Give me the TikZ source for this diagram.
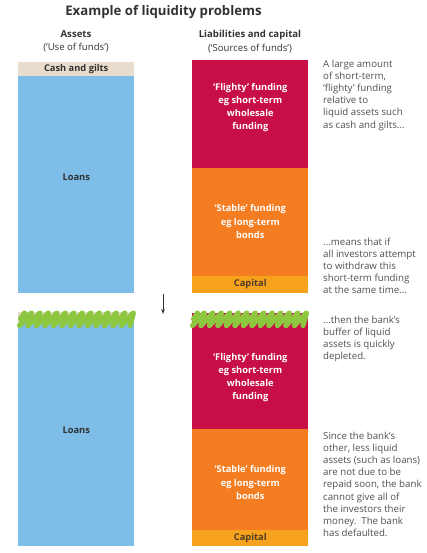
\documentclass[tikz,border=0pt]{standalone}
\usepackage{fontspec}
\setmainfont{Open Sans}
\usetikzlibrary{arrows.meta}
\definecolor{cblue}{RGB}{125,189,232}
\definecolor{cbeige}{RGB}{232,220,204}
\definecolor{ccrimson}{RGB}{200,14,70}
\definecolor{corange}{RGB}{244,125,34}
\definecolor{ccapital}{RGB}{246,162,28}
\definecolor{cgreen}{RGB}{141,198,63}
\definecolor{greytext}{RGB}{80,80,80}
\definecolor{darktext}{RGB}{50,50,50}
\definecolor{captext}{RGB}{80,60,40}
\begin{document}
\begin{tikzpicture}[x=1pt,y=-1pt,
  bar/.style={rectangle, draw=none, inner sep=0pt, outer sep=0pt, minimum width=116pt, anchor=north west},
  lbl/.style={font=\bfseries\fontsize{9.3}{13.2}\selectfont, align=center, inner sep=0pt},
  wlbl/.style={lbl, text=white},
  dlbl/.style={lbl, text=darktext},
  para/.style={font=\fontsize{9.7}{12.2}\selectfont, text=greytext, align=left, anchor=north west, inner sep=0pt},
  head/.style={font=\fontsize{9.6}{13.5}\selectfont, align=center, text=darktext, inner sep=0pt},
  arr/.style={-{Stealth[length=5pt,width=3.6pt]}, line width=0.8pt, draw=darktext},
  scrib/.style={draw=cgreen, line width=5.2pt, line cap=round, line join=round}]
\useasboundingbox (0,0) rectangle (427,553);

% title and headings
\node[font=\bfseries\fontsize{13.2}{15}\selectfont, text=darktext, inner sep=0pt] (title) at (163.5,12) {Example of liquidity problems};
\node[head] (hassets) at (76,41.5) {{\bfseries Assets}\\(‘Use of funds’)};
\node[head] (hliab) at (250,41.5) {{\bfseries Liabilities and capital}\\(‘Sources of funds’)};

% ---- top balance sheet ----
\node[bar, fill=cbeige, minimum height=13.7pt] (cash) at (18.3,62) {};
\node[bar, fill=cblue, minimum height=217pt] (loans) at (18.3,75.7) {};
\node[dlbl] (cashl) at (76.2,69) {Cash and gilts};
\node[dlbl] (loansl) at (76.2,177) {Loans};

\node[bar, fill=ccrimson, minimum height=107.7pt] (flighty) at (192.3,60) {};
\node[bar, fill=corange, minimum height=108.6pt] (stable) at (192.3,167.7) {};
\node[bar, fill=ccapital, minimum height=16.4pt] (capital) at (192.3,276.3) {};
\node[wlbl] (flightyl) at (250.3,107.5) {‘Flighty’ funding\\eg short-term\\wholesale\\funding};
\node[wlbl] (stablel) at (250.3,221.5) {‘Stable’ funding\\eg long-term\\bonds};
\node[lbl, text=captext] (capitall) at (250.3,284.5) {Capital};

% ---- arrow ----
\coordinate (a1) at (163,294);
\coordinate (a2) at (163,314);
\draw[arr] (a1) -- (a2);

% ---- bottom balance sheet ----
\node[bar, fill=cbeige, minimum height=11pt] (cash2) at (18.3,312) {};
\node[bar, fill=cblue, minimum height=222.7pt] (loans2) at (18.3,323) {};
\node[dlbl] (loans2l) at (76.2,430) {Loans};

\node[bar, fill=ccrimson, minimum height=116.3pt] (flighty2) at (192.3,313) {};
\node[bar, fill=corange, minimum height=100.7pt] (stable2) at (192.3,429.3) {};
\node[bar, fill=ccapital, minimum height=15.7pt] (capital2) at (192.3,530) {};
\node[wlbl] (flighty2l) at (250.3,377.5) {‘Flighty’ funding\\eg short-term\\wholesale\\funding};
\node[wlbl] (stable2l) at (250.3,482.5) {‘Stable’ funding\\eg long-term\\bonds};
\node[lbl, text=captext] (capital2l) at (250.3,537.8) {Capital};

% ---- green scribbles ----
\foreach \xs in {19.5, 192.5}{
  \foreach \k in {0,...,12}{
    \draw[scrib] (\xs+\k*8.5,325.5) -- (\xs+\k*8.5+12,312.8) -- (\xs+\k*8.5+8.5,325.5);
  }
  \draw[scrib] (\xs+1,319) -- (\xs+5,313);
}

% ---- explanatory text ----
\node[para] (p1) at (323,59.5) {A large amount\\of short-term,\\‘flighty’ funding\\relative to\\liquid assets such\\as cash and gilts...};
\node[para] (p2) at (323,237.5) {...means that if\\all investors attempt\\to withdraw this\\short-term funding\\at the same time...};
\node[para] (p3) at (323,315.5) {...then the bank’s\\buffer of liquid\\assets is quickly\\depleted.};
\node[para] (p4) at (323,431.5) {Since the bank’s\\other, less liquid\\assets (such as loans)\\are not due to be\\repaid soon, the bank\\cannot give all of\\the investors their\\money.\ \ The bank\\has defaulted.};
\end{tikzpicture}
\end{document}
